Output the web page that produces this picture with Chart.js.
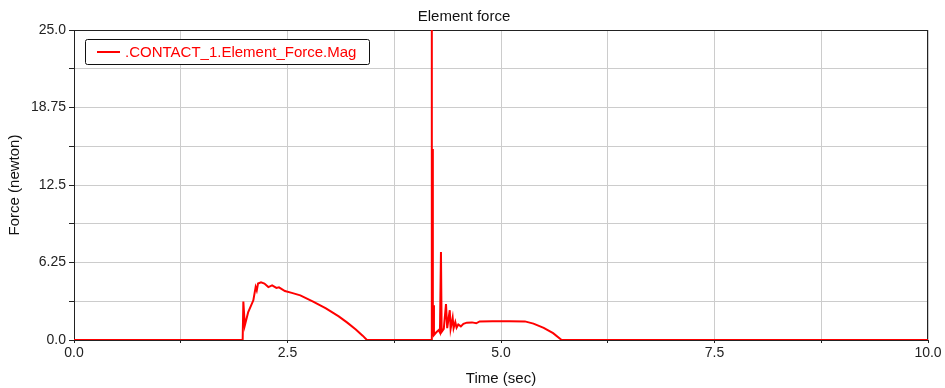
<!DOCTYPE html>
<html>
<head>
<meta charset="utf-8">
<title>Element force</title>
<script src="https://cdn.jsdelivr.net/npm/chart.js@4/dist/chart.umd.min.js"></script>
<style>
  html, body { margin: 0; padding: 0; background: #fff; }
  #wrap { width: 945px; height: 388px; }
</style>
</head>
<body>
<div id="wrap"><canvas id="forceGraph" width="945" height="388"></canvas></div>
<script>
const seriesLabel = '.CONTACT_1.Element_Force.Mag';

// contact force magnitude over time
const times = [
  0, 1.975, 1.983, 2.0, 2.04, 2.10, 2.127, 2.14, 2.155, 2.19, 2.23, 2.276, 2.32, 2.37, 2.40,
  2.47, 2.55, 2.65, 2.80, 2.95, 3.10, 3.20, 3.30, 3.38, 3.43,
  4.185, 4.188, 4.192, 4.197, 4.202, 4.208, 4.215, 4.24, 4.27, 4.285, 4.297, 4.305, 4.33,
  4.356, 4.37, 4.40, 4.41, 4.434, 4.445, 4.465, 4.48, 4.50, 4.53, 4.56, 4.60, 4.66, 4.71,
  4.75, 4.90, 5.10, 5.28, 5.38, 5.50, 5.61, 5.71, 10
];
const forces = [
  0, 0, 3.1, 1.17, 2.25, 3.2, 4.27, 4.0, 4.55, 4.65, 4.55, 4.27, 4.4, 4.2, 4.25,
  3.95, 3.8, 3.6, 3.1, 2.55, 1.9, 1.4, 0.85, 0.35, 0,
  0, 25, 0.4, 15.4, 0.3, 2.8, 0.4, 0.6, 0.8, 0.6, 7.1, 0.65, 0.9,
  2.9, 0.95, 2.4, 0.9, 1.8, 0.95, 1.45, 1.0, 1.25, 1.1, 1.3, 1.4, 1.42, 1.35,
  1.5, 1.52, 1.52, 1.5, 1.32, 0.98, 0.55, 0, 0
];

const xTickLabels = ['0.0', '2.5', '5.0', '7.5', '10.0'];
const yTickLabels = ['0.0', '6.25', '12.5', '18.75', '25.0'];

const lineColor = '#ff0000';
const gridColor = '#cccccc';

Chart.defaults.font.family = "'Liberation Sans', Arial, sans-serif";
Chart.defaults.color = '#222';

// only every second grid line carries a label
const majorLabel = (list, step) => (value) => {
  const k = value / step;
  return Math.abs(k - Math.round(k)) < 1e-6 ? list[Math.round(k)] : '';
};

// dark frame round the plot area
const frame = {
  id: 'frame',
  beforeDatasetsDraw(chart) {
    const { ctx, chartArea: a } = chart;
    ctx.save();
    ctx.strokeStyle = '#222';
    ctx.lineWidth = 1;
    ctx.strokeRect(Math.round(a.left) + 0.5, Math.round(a.top) + 0.5,
      Math.round(a.right - a.left) - 1, Math.round(a.bottom - a.top));
    ctx.restore();
  }
};

// boxed legend inside the top-left of the plot
const boxLegend = {
  id: 'boxLegend',
  afterDraw(chart) {
    const { ctx } = chart;
    const ds = chart.data.datasets[0];
    ctx.save();
    ctx.fillStyle = '#fff';
    ctx.strokeStyle = '#111';
    ctx.lineWidth = 1;
    ctx.beginPath();
    ctx.roundRect(85.5, 39.5, 284, 25, 2);
    ctx.fill();
    ctx.stroke();
    ctx.strokeStyle = ds.borderColor;
    ctx.lineWidth = 2;
    ctx.beginPath();
    ctx.moveTo(97, 52);
    ctx.lineTo(120, 52);
    ctx.stroke();
    ctx.fillStyle = ds.borderColor;
    ctx.font = "15px 'Liberation Sans', Arial, sans-serif";
    ctx.textBaseline = 'middle';
    ctx.fillText(ds.label, 125, 52.5);
    ctx.restore();
  }
};

const ctx = document.getElementById('forceGraph').getContext('2d');

new Chart(ctx, {
  type: 'line',
  data: {
    datasets: [{
      label: seriesLabel,
      data: times.map((t, i) => ({ x: t, y: forces[i] })),
      borderColor: lineColor,
      backgroundColor: lineColor,
      borderWidth: 2,
      pointRadius: 0,
      tension: 0,
      fill: false,
    }],
  },
  options: {
    responsive: false,
    animation: false,
    layout: { padding: { left: 0, right: 17, top: 0, bottom: 0 } },
    plugins: {
      legend: { display: false },
      tooltip: { enabled: false },
      title: {
        display: true,
        text: 'Element force',
        color: '#111',
        font: { size: 15, weight: 'normal' },
        padding: { top: 8, bottom: 4 },
      },
    },
    scales: {
      x: {
        type: 'linear',
        min: 0,
        max: 10,
        afterFit: (scale) => { scale.height = 48; },
        grid: { color: gridColor, tickColor: '#222', tickLength: 3 },
        border: { color: '#222' },
        ticks: {
          stepSize: 1.25,
          autoSkip: false,
          maxRotation: 0,
          padding: 2,
          font: { size: 14 },
          callback: majorLabel(xTickLabels, 2.5),
        },
        title: {
          display: true,
          text: 'Time (sec)',
          color: '#111',
          font: { size: 15 },
          padding: { top: 0, bottom: 0 },
        },
      },
      y: {
        min: 0,
        max: 25,
        afterFit: (scale) => { scale.width = 74; },
        grid: { color: gridColor, tickColor: '#222', tickLength: 5 },
        border: { color: '#222' },
        ticks: {
          stepSize: 3.125,
          autoSkip: false,
          padding: 3,
          font: { size: 14 },
          callback: majorLabel(yTickLabels, 6.25),
        },
        title: {
          display: true,
          text: 'Force (newton)',
          color: '#111',
          font: { size: 15 },
          padding: { top: 6, bottom: 0 },
        },
      },
    },
  },
  plugins: [frame, boxLegend],
});
</script>
</body>
</html>
